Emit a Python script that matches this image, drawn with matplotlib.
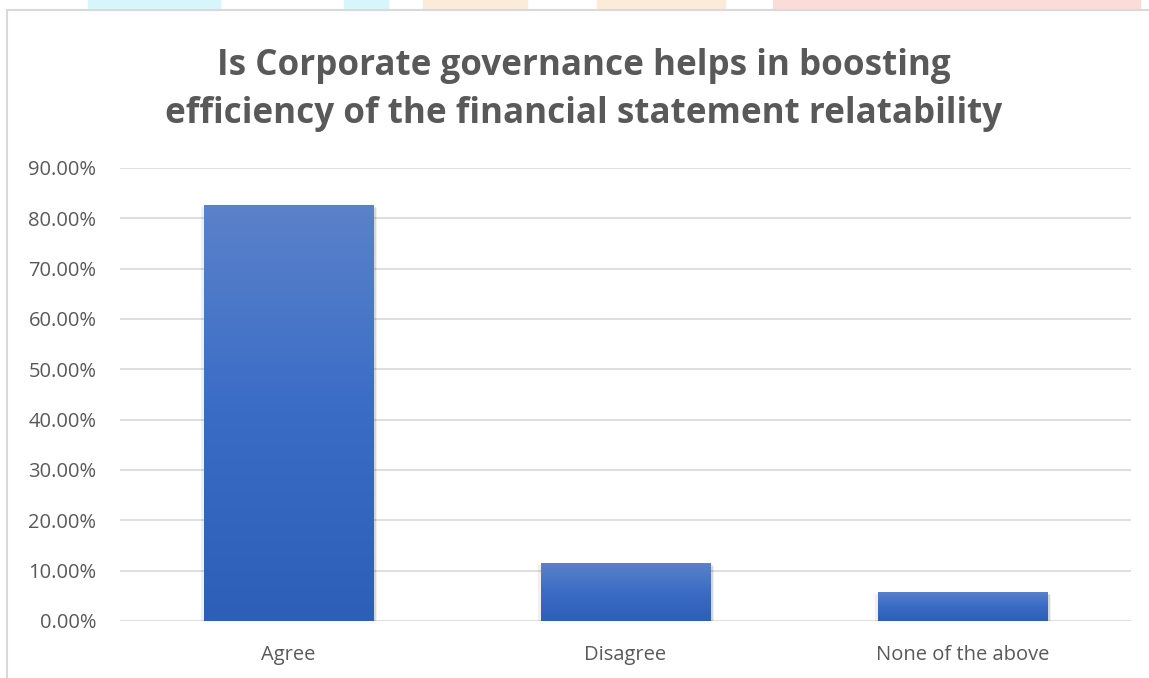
import numpy as np
import matplotlib
matplotlib.use("Agg")
import matplotlib.pyplot as plt
from matplotlib.patches import Rectangle
from matplotlib.ticker import FuncFormatter, MultipleLocator
from matplotlib.colors import LinearSegmentedColormap
import matplotlib.patheffects as pe

categories = ["Agree", "Disagree", "None of the above"]
values = [82.7, 11.5, 5.8]
title = "Is Corporate governance helps in boosting\nefficiency of the financial statement relatability"

W, H = 1149, 678
fig = plt.figure(figsize=(W / 100, H / 100), dpi=100)
fig.patch.set_facecolor("white")

# decorative strip at top (watermark remnants)
for x0, x1, c in [(88, 220, "#d6f6fb"), (344, 388, "#d6f6fb"), (423, 527, "#fdebd9"),
                  (597, 725, "#fdebd9"), (773, 1140, "#fcdcd6")]:
    fig.patches.append(Rectangle((x0 / W, 1 - 10 / H), (x1 - x0) / W, 10 / H,
                                 transform=fig.transFigure, color=c, zorder=0))
# chart border
fig.lines.append(plt.Line2D([7 / W, 7 / W], [0, 1 - 10 / H], transform=fig.transFigure, color="#d9d9d9", lw=1.5))
fig.lines.append(plt.Line2D([7 / W, 1], [1 - 10 / H, 1 - 10 / H], transform=fig.transFigure, color="#d9d9d9", lw=1.5))

left, right = 120 / W, 1131 / W
bottom, top = 1 - 621 / H, 1 - 168 / H
ax = fig.add_axes([left, bottom, right - left, top - bottom])
ax.set_xlim(-0.5, 2.5)
ax.set_ylim(0, 90)
ax.yaxis.set_major_locator(MultipleLocator(10))
ax.yaxis.set_major_formatter(FuncFormatter(lambda v, p: f"{v:.2f}%"))
ax.grid(axis="y", color="#d9d9d9", lw=1.2, zorder=0)
for s in ax.spines.values():
    s.set_visible(False)
ax.tick_params(axis="both", length=0, labelsize=14.5, labelcolor="#595959")
ax.tick_params(axis="y", pad=17)
ax.tick_params(axis="x", pad=17)
ax.set_xticks(range(len(categories)))
ax.set_xticklabels(categories)
for lab in ax.get_xticklabels() + ax.get_yticklabels():
    lab.set_fontfamily("Open Sans")

bw = 0.504
shadow = [pe.SimplePatchShadow(offset=(0, 0), shadow_rgbFace="#000000", alpha=0.06),
          pe.SimplePatchShadow(offset=(1.5, -1.5), shadow_rgbFace="#000000", alpha=0.10),
          pe.SimplePatchShadow(offset=(2.5, -2.5), shadow_rgbFace="#000000", alpha=0.06),
          pe.SimplePatchShadow(offset=(-1.5, -1.5), shadow_rgbFace="#000000", alpha=0.06),
          pe.Normal()]
bars = ax.bar(range(len(categories)), values, width=bw, color="#4472c4", zorder=2,
              path_effects=shadow)
cmap = LinearSegmentedColormap.from_list("g", ["#2d5fb8", "#3a6cc6", "#5b82ca"])
grad = np.linspace(0, 1, 256).reshape(-1, 1)
for b in bars:
    x, y, w, h = b.get_x(), b.get_y(), b.get_width(), b.get_height()
    im = ax.imshow(grad, cmap=cmap, origin="lower", extent=[x, x + w, y, y + h],
                   aspect="auto", zorder=3, interpolation="bilinear")
    im.set_clip_path(b)

fig.text(0.508, 1 - 90 / H, title, ha="center", va="center", fontsize=25.2, fontweight="bold",
         color="#595959", family="Open Sans", linespacing=1.48)

fig.savefig("out.png", dpi=100)
